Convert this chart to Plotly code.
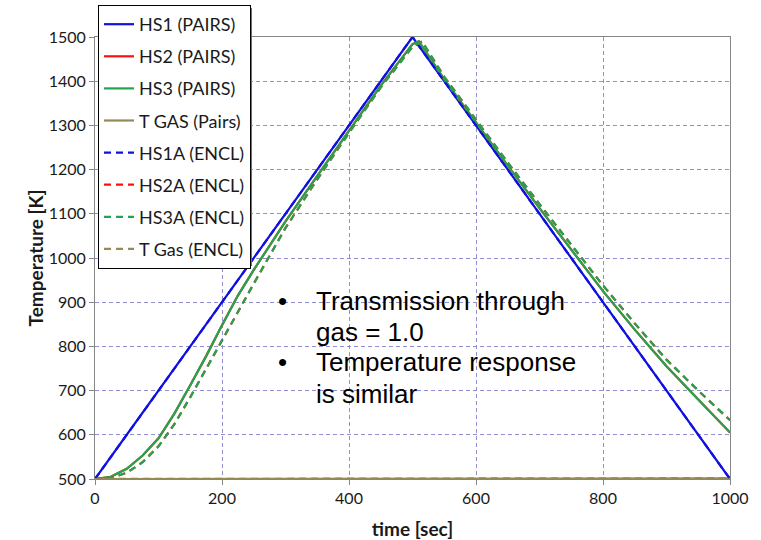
import plotly.graph_objects as go

# ---------------- data ----------------
time_hs1 = [0, 500, 1000]
hs1_pairs = [500, 1500, 500]
hs1a_encl = [500, 1500, 500]

time_hs3 = [0, 25, 50, 75, 100, 125, 150, 175, 200, 225, 250, 300, 350, 400, 450,
            500, 510, 550, 600, 650, 700, 750, 800, 850, 900, 950, 1000]
hs3_pairs = [500, 505, 523, 553, 592, 648, 712, 778, 848, 915, 973, 1083, 1186, 1288, 1390,
             1484, 1490, 1404, 1306, 1209, 1113, 1018, 925, 838, 755, 680, 605]
hs2_pairs = [500, 505, 523, 553, 592, 648, 712, 778, 848, 915, 973, 1083, 1186, 1288, 1390,
             1484, 1490, 1404, 1306, 1209, 1113, 1018, 925, 838, 755, 680, 605]

time_hs3a = [0, 25, 50, 75, 100, 125, 150, 175, 200, 225, 250, 300, 350, 400, 450,
             500, 515, 550, 600, 650, 700, 750, 800, 850, 900, 950, 1000]
hs3a_encl = [500, 502, 514, 538, 574, 624, 685, 750, 815, 880, 942, 1068, 1178, 1283, 1386,
             1478, 1490, 1410, 1312, 1216, 1122, 1030, 938, 852, 770, 700, 633]
hs2a_encl = [500, 502, 514, 538, 574, 624, 685, 750, 815, 880, 942, 1068, 1178, 1283, 1386,
             1478, 1490, 1410, 1312, 1216, 1122, 1030, 938, 852, 770, 700, 633]

time_gas = [0, 250, 500, 750, 1000]
tgas_pairs = [500, 500.3, 500.8, 501.2, 501.5]
tgas_encl = [500, 500.4, 501.0, 501.5, 502.0]

x_ticks = [0, 200, 400, 600, 800, 1000]
y_ticks = [500, 600, 700, 800, 900, 1000, 1100, 1200, 1300, 1400, 1500]

note_lines = ["Transmission through", "gas = 1.0", "Temperature response", "is similar"]

# ---------------- styles ----------------
BLUE = "#1010E0"
RED = "#FF1010"
GREEN = "#22A54E"
OLIVE = "#948A54"
DASH = "7px,5px"

series = [
    ("HS1 (PAIRS)", time_hs1, hs1_pairs, BLUE, "solid"),
    ("HS2 (PAIRS)", time_hs3, hs2_pairs, RED, "solid"),
    ("HS3 (PAIRS)", time_hs3, hs3_pairs, GREEN, "solid"),
    ("T GAS (Pairs)", time_gas, tgas_pairs, OLIVE, "solid"),
    ("HS1A (ENCL)", time_hs1, hs1a_encl, BLUE, DASH),
    ("HS2A (ENCL)", time_hs3a, hs2a_encl, RED, DASH),
    ("HS3A (ENCL)", time_hs3a, hs3a_encl, GREEN, DASH),
    ("T Gas (ENCL)", time_gas, tgas_encl, OLIVE, DASH),
]

fig = go.Figure()
for i, (name, xs, ys, col, dash) in enumerate(series):
    fig.add_trace(go.Scatter(
        x=xs, y=ys, name=name, mode="lines",
        line=dict(color=col, width=2.2, dash=dash),
        legendgroup=f"g{i}",
    ))

# plot area in pixels: x 95..730, y 37..479
L, R, T, B = 95, 31, 37, 61
W, H = 761, 540
PW, PH = W - L - R, H - T - B


def px_x(p):
    return (p - L) / PW


def px_y(p):
    return (H - B - p) / PH


GRID = "#8F8FD2"
AX = "#868686"
TICKFONT = dict(family="Lato, Open Sans, sans-serif", size=16, color="#1a1a1a")
TITLEFONT = dict(family="Lato, Open Sans, sans-serif", size=19, color="#1a1a1a")

fig.update_layout(
    width=W, height=H,
    margin=dict(l=L, r=R, t=T, b=B, autoexpand=False),
    paper_bgcolor="white", plot_bgcolor="white",
    showlegend=True,
    legend=dict(
        x=px_x(98), y=px_y(5), xanchor="left", yanchor="top",
        bgcolor="white", bordercolor="black", borderwidth=1,
        font=dict(family="Lato, Open Sans, sans-serif", size=18, color="#1a1a1a"),
        tracegroupgap=5.7, traceorder="grouped",
    ),
    xaxis=dict(
        range=[0, 1000], tickvals=x_ticks, ticktext=[str(v) for v in x_ticks],
        ticks="outside", ticklen=5, tickcolor=AX,
        showline=True, linecolor=AX, linewidth=1, mirror=True,
        showgrid=True, gridcolor=GRID, griddash="4px,3px", gridwidth=1,
        zeroline=False, tickfont=TICKFONT,
        title=dict(text="<b>time [sec]</b>", font=TITLEFONT, standoff=17),
    ),
    yaxis=dict(
        range=[500, 1500], tickvals=y_ticks, ticktext=[str(v) for v in y_ticks],
        ticks="outside", ticklen=5, tickcolor=AX,
        showline=True, linecolor=AX, linewidth=1, mirror=True,
        showgrid=True, gridcolor=GRID, griddash="4px,3px", gridwidth=1,
        zeroline=False, tickfont=TICKFONT,
        title=dict(text="<b>Temperature [K]</b>", font=TITLEFONT, standoff=0),
    ),
)

# legend drop shadow
fig.add_shape(type="rect", xref="paper", yref="paper",
              x0=px_x(101), x1=px_x(252), y0=px_y(266), y1=px_y(8),
              fillcolor="#6f6f6f", line=dict(width=0), layer="above")

# bullet notes
NOTEFONT = dict(family="Liberation Sans, Arial, sans-serif", size=26, color="black")
baselines = [312, 343, 373, 405]
for txt, bl in zip(note_lines, baselines):
    fig.add_annotation(xref="paper", yref="paper", x=px_x(314), y=px_y(bl - 11),
                       text=txt, showarrow=False, xanchor="left", yanchor="middle",
                       font=NOTEFONT)
for bl in [baselines[0], baselines[2]]:
    fig.add_annotation(xref="paper", yref="paper", x=px_x(276), y=px_y(bl - 11),
                       text="•", showarrow=False, xanchor="left", yanchor="middle",
                       font=NOTEFONT)

fig.write_html("out.html")
